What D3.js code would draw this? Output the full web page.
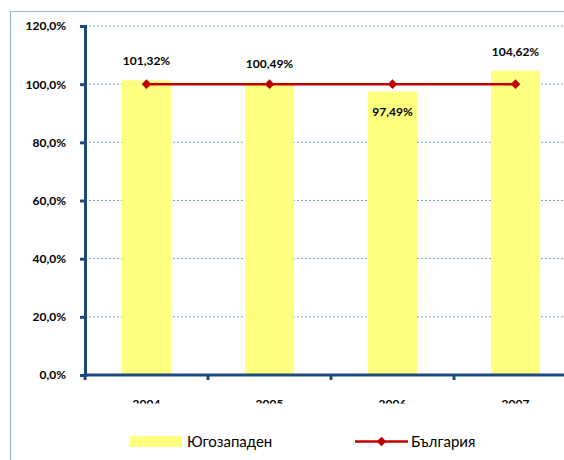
<!DOCTYPE html>
<html><head><meta charset="utf-8">
<script src="https://cdn.jsdelivr.net/npm/d3@7"></script>
<style>body{margin:0;background:#fff}svg{display:block}</style>
</head><body>
<script>
const categories = ["2004", "2005", "2006", "2007"];
const regionValues = [101.32, 100.49, 97.49, 104.62];
const bulgariaValues = [100, 100, 100, 100];
const yTicks = [0, 20, 40, 60, 80, 100, 120];
const seriesNames = ["Югозападен", "България"];

const W = 564, H = 460;
const svg = d3.select("body").append("svg").attr("width", W).attr("height", H);
const font = "Lato, 'Open Sans', sans-serif";

// chart border (left + top visible)
svg.append("path").attr("d", "M10.5,460 V11.5 H564").attr("fill", "none")
  .attr("stroke", "#9fb3cf").attr("stroke-width", 1.2);

const xc = d3.scaleBand().domain(categories).range([85, 577]);
const y = d3.scaleLinear().domain([0, 120]).range([375, 26]);
const fmtTick = d => d3.format(".1f")(d).replace(".", ",") + "%";
const fmtVal = d => d3.format(".2f")(d).replace(".", ",") + "%";

// gridlines
svg.append("g").selectAll("line").data(yTicks.filter(t => t > 0)).join("line")
  .attr("x1", 85).attr("x2", W).attr("y1", d => y(d)).attr("y2", d => y(d))
  .attr("stroke", "#7f9cc4").attr("stroke-width", 1).attr("stroke-dasharray", "2,2");

// bars
svg.append("g").selectAll("rect").data(regionValues).join("rect")
  .attr("x", (d, i) => xc(categories[i]) + xc.bandwidth() / 2 - 24.5)
  .attr("width", 49)
  .attr("y", d => y(d)).attr("height", d => y(0) - y(d))
  .attr("fill", "#ffff80");

// y axis
const yAxis = svg.append("g").attr("transform", "translate(85,0)")
  .call(d3.axisLeft(y).tickValues(yTicks).tickFormat(fmtTick).tickSize(5).tickPadding(14));
yAxis.select(".domain").attr("stroke", "#1f497d").attr("stroke-width", 3);
yAxis.selectAll(".tick line").attr("stroke", "#1f497d").attr("stroke-width", 3);
yAxis.selectAll("text").attr("font-family", font).attr("font-weight", "bold")
  .attr("font-size", 12).attr("fill", "#000");

// x axis with clipped labels (clip in the group's local coordinates)
svg.append("clipPath").attr("id", "xclip").append("rect")
  .attr("x", -10).attr("y", -5).attr("width", W + 20).attr("height", 33.5);
const xAxis = svg.append("g").attr("transform", "translate(0,375)")
  .attr("clip-path", "url(#xclip)")
  .call(d3.axisBottom(xc).tickSize(0).tickPadding(24));
xAxis.select(".domain").remove();
xAxis.selectAll("text").attr("font-family", font).attr("font-weight", "bold")
  .attr("font-size", 12).attr("fill", "#000");
const xLine = svg.append("g");
xLine.append("line").attr("x1", 83.5).attr("x2", W).attr("y1", 375).attr("y2", 375)
  .attr("stroke", "#1f497d").attr("stroke-width", 3);
xLine.selectAll(".tk").data(categories.concat(["end"])).join("line")
  .attr("x1", (d, i) => 85 + i * xc.step()).attr("x2", (d, i) => 85 + i * xc.step())
  .attr("y1", 375).attr("y2", 380).attr("stroke", "#1f497d").attr("stroke-width", 3);

// Bulgaria line
const cx = i => xc(categories[i]) + xc.bandwidth() / 2;
const line = d3.line().x((d, i) => cx(i)).y(d => y(d));
svg.append("path").datum(bulgariaValues).attr("d", line).attr("fill", "none")
  .attr("stroke", "#c00000").attr("stroke-width", 2.5);
const diamond = d3.symbol().type(d3.symbolDiamond2).size(60);
svg.append("g").selectAll("path").data(bulgariaValues).join("path")
  .attr("d", diamond)
  .attr("transform", (d, i) => `translate(${cx(i)},${y(d)})`)
  .attr("fill", "#c00000");

// value labels
svg.append("g").selectAll("text").data(regionValues).join("text")
  .attr("x", (d, i) => cx(i))
  .attr("y", d => d >= 100 ? y(d) - 15 : y(d) + 25)
  .attr("text-anchor", "middle").attr("font-family", font).attr("font-weight", "bold")
  .attr("font-size", 12).attr("fill", "#000").text(fmtVal);

// legend
const lg = svg.append("g");
lg.append("rect").attr("x", 130).attr("y", 436).attr("width", 52).attr("height", 11).attr("fill", "#ffff80");
lg.append("text").attr("x", 187).attr("y", 447).attr("font-family", font).attr("font-size", 15)
  .attr("fill", "#000").text(seriesNames[0]);
lg.append("line").attr("x1", 355).attr("x2", 408).attr("y1", 441.5).attr("y2", 441.5)
  .attr("stroke", "#c00000").attr("stroke-width", 2.5);
lg.append("path").attr("d", diamond).attr("transform", "translate(381.5,441.5)").attr("fill", "#c00000");
lg.append("text").attr("x", 411).attr("y", 447).attr("font-family", font).attr("font-size", 15)
  .attr("fill", "#000").text(seriesNames[1]);
</script>
</body></html>
